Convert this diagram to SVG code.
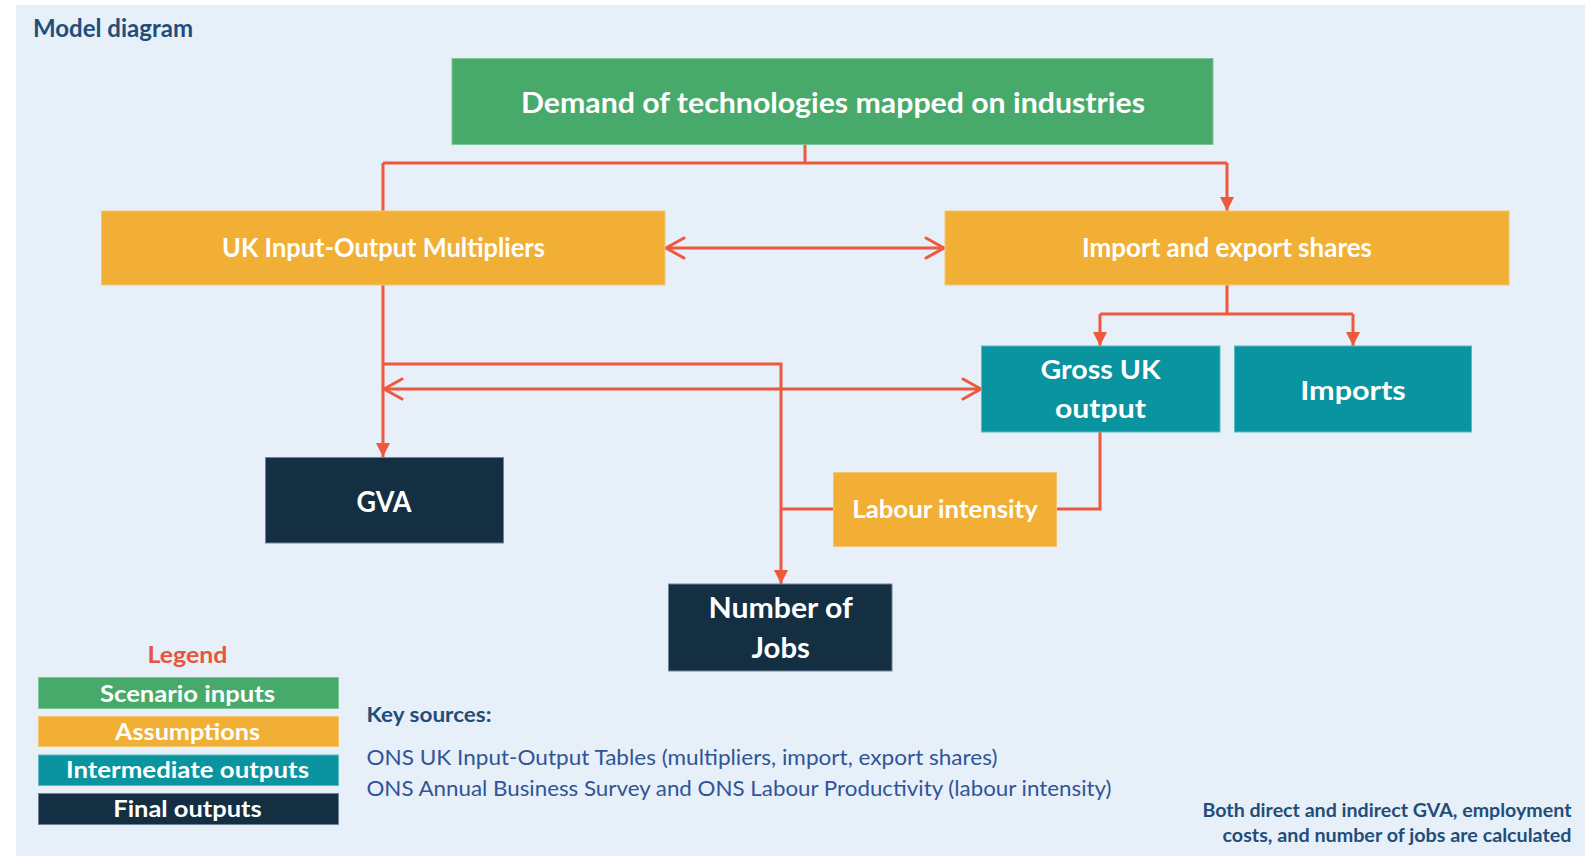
<svg xmlns="http://www.w3.org/2000/svg" width="1585" height="856" viewBox="0 0 1585 856">
  <style>
    .bg { fill: #E7EFF9; }
    .green { fill: #48AA6A; stroke: #7CC596; stroke-width: 1; }
    .orange { fill: #F1AF36; stroke: #F5C670; stroke-width: 1; }
    .teal { fill: #0A94A0; stroke: #5DB9C1; stroke-width: 1; }
    .navy { fill: #142E42; stroke: #6E8599; stroke-width: 1; }
    .lbl { font-family: Lato, "Liberation Sans", sans-serif; font-weight: bold; fill: #FFFFFF; text-anchor: middle; }
    .conn { fill: none; stroke: #EE583C; stroke-width: 3; }
    .title { font-family: Lato, "Liberation Sans", sans-serif; font-weight: bold; fill: #1F4E79; }
    .src { font-family: Lato, "Liberation Sans", sans-serif; font-weight: normal; fill: #2F5597; }
  </style>
  <defs>
    <marker id="tri" viewBox="0 0 14 14" refX="14" refY="7" markerWidth="14" markerHeight="14" markerUnits="userSpaceOnUse" orient="auto">
      <path d="M0,0 L14,7 L0,14 z" fill="#EE583C"/>
    </marker>
    <marker id="chev" viewBox="-3 -3 24 26" refX="18" refY="10" markerWidth="24" markerHeight="26" markerUnits="userSpaceOnUse" orient="auto-start-reverse">
      <path d="M0,0 L18,10 L0,20" fill="none" stroke="#EE583C" stroke-width="3" stroke-linecap="round" stroke-linejoin="miter"/>
    </marker>
  </defs>

  <rect class="bg" x="16" y="5" width="1569" height="851"/>

  <text class="title" x="33" y="37" font-size="24" textLength="160" lengthAdjust="spacingAndGlyphs">Model diagram</text>

  <g id="connectors">
    <path class="conn" d="M805,144 V163"/>
    <path class="conn" d="M383,163 H1227"/>
    <path class="conn" d="M383,163 V211"/>
    <path class="conn" d="M1227,163 V211" marker-end="url(#tri)"/>
    <path class="conn" d="M666,248 H944" marker-start="url(#chev)" marker-end="url(#chev)"/>
    <path class="conn" d="M383,285 V457" marker-end="url(#tri)"/>
    <path class="conn" d="M383,364 H781 V584" marker-end="url(#tri)"/>
    <path class="conn" d="M384,389 H981" marker-start="url(#chev)" marker-end="url(#chev)"/>
    <path class="conn" d="M1227,285 V314"/>
    <path class="conn" d="M1100,314 H1353"/>
    <path class="conn" d="M1100,314 V346" marker-end="url(#tri)"/>
    <path class="conn" d="M1353,314 V346" marker-end="url(#tri)"/>
    <path class="conn" d="M1100,432 V509 H1057"/>
    <path class="conn" d="M833,509 H781"/>
  </g>

  <g id="node-demand">
    <rect class="green" x="452" y="58.5" width="761" height="86"/>
    <text class="lbl" x="833" y="112.5" font-size="29" textLength="624" lengthAdjust="spacingAndGlyphs">Demand of technologies mapped on industries</text>
  </g>

  <g id="node-uk-io">
    <rect class="orange" x="101.5" y="211" width="563.5" height="74"/>
    <text class="lbl" x="383.5" y="257.3" font-size="26.5" textLength="323" lengthAdjust="spacingAndGlyphs">UK Input-Output Multipliers</text>
  </g>

  <g id="node-import-export">
    <rect class="orange" x="945" y="211" width="564" height="74"/>
    <text class="lbl" x="1227" y="257.3" font-size="26.5" textLength="290" lengthAdjust="spacingAndGlyphs">Import and export shares</text>
  </g>

  <g id="node-gross-uk">
    <rect class="teal" x="981.5" y="346" width="238.5" height="86"/>
    <text class="lbl" x="1100.5" y="379.3" font-size="27" textLength="120" lengthAdjust="spacingAndGlyphs">Gross UK</text>
    <text class="lbl" x="1100.5" y="418" font-size="27" textLength="91" lengthAdjust="spacingAndGlyphs">output</text>
  </g>

  <g id="node-imports">
    <rect class="teal" x="1234.5" y="346" width="237" height="86"/>
    <text class="lbl" x="1353" y="400" font-size="27" textLength="105.5" lengthAdjust="spacingAndGlyphs">Imports</text>
  </g>

  <g id="node-gva">
    <rect class="navy" x="265.5" y="457.5" width="238" height="85.5"/>
    <text class="lbl" x="384" y="511.7" font-size="28" textLength="55" lengthAdjust="spacingAndGlyphs">GVA</text>
  </g>

  <g id="node-labour">
    <rect class="orange" x="833.5" y="472.5" width="223" height="74"/>
    <text class="lbl" x="945" y="518.3" font-size="25" textLength="185.5" lengthAdjust="spacingAndGlyphs">Labour intensity</text>
  </g>

  <g id="node-jobs">
    <rect class="navy" x="668.5" y="584" width="223.5" height="87"/>
    <text class="lbl" x="780.7" y="618.3" font-size="28" textLength="144.5" lengthAdjust="spacingAndGlyphs">Number of</text>
    <text class="lbl" x="780.7" y="658.3" font-size="28" textLength="58.5" lengthAdjust="spacingAndGlyphs">Jobs</text>
  </g>

  <g id="legend">
    <text x="187.5" y="662.7" font-family="Lato, 'Liberation Sans', sans-serif" font-weight="bold" font-size="22" fill="#E8553A" text-anchor="middle" textLength="80" lengthAdjust="spacingAndGlyphs">Legend</text>
    <rect class="green" x="38.5" y="677.5" width="300" height="31"/>
    <text class="lbl" x="187.5" y="701.7" font-size="22" textLength="175" lengthAdjust="spacingAndGlyphs">Scenario inputs</text>
    <rect class="orange" x="38.5" y="716.5" width="300" height="30"/>
    <text class="lbl" x="187.5" y="740" font-size="22" textLength="145" lengthAdjust="spacingAndGlyphs">Assumptions</text>
    <rect class="teal" x="38.5" y="755" width="300" height="30.5"/>
    <text class="lbl" x="187.5" y="778.3" font-size="22" textLength="243" lengthAdjust="spacingAndGlyphs">Intermediate outputs</text>
    <rect class="navy" x="38.5" y="793.5" width="300" height="31"/>
    <text class="lbl" x="187.5" y="816.7" font-size="22" textLength="148.5" lengthAdjust="spacingAndGlyphs">Final outputs</text>
  </g>

  <g id="sources">
    <text class="title" x="366.5" y="722.3" font-size="21" textLength="125" lengthAdjust="spacingAndGlyphs">Key sources:</text>
    <text class="src" x="366.5" y="765" font-size="21" textLength="631" lengthAdjust="spacingAndGlyphs">ONS UK Input-Output Tables (multipliers, import, export shares)</text>
    <text class="src" x="366.5" y="796" font-size="21" textLength="745" lengthAdjust="spacingAndGlyphs">ONS Annual Business Survey and ONS Labour Productivity (labour intensity)</text>
  </g>

  <g id="note">
    <text class="title" x="1571.5" y="816.7" font-size="19.5" text-anchor="end" textLength="369" lengthAdjust="spacingAndGlyphs">Both direct and indirect GVA, employment</text>
    <text class="title" x="1571.5" y="841.7" font-size="19.5" text-anchor="end" textLength="349" lengthAdjust="spacingAndGlyphs">costs, and number of jobs are calculated</text>
  </g>
</svg>
